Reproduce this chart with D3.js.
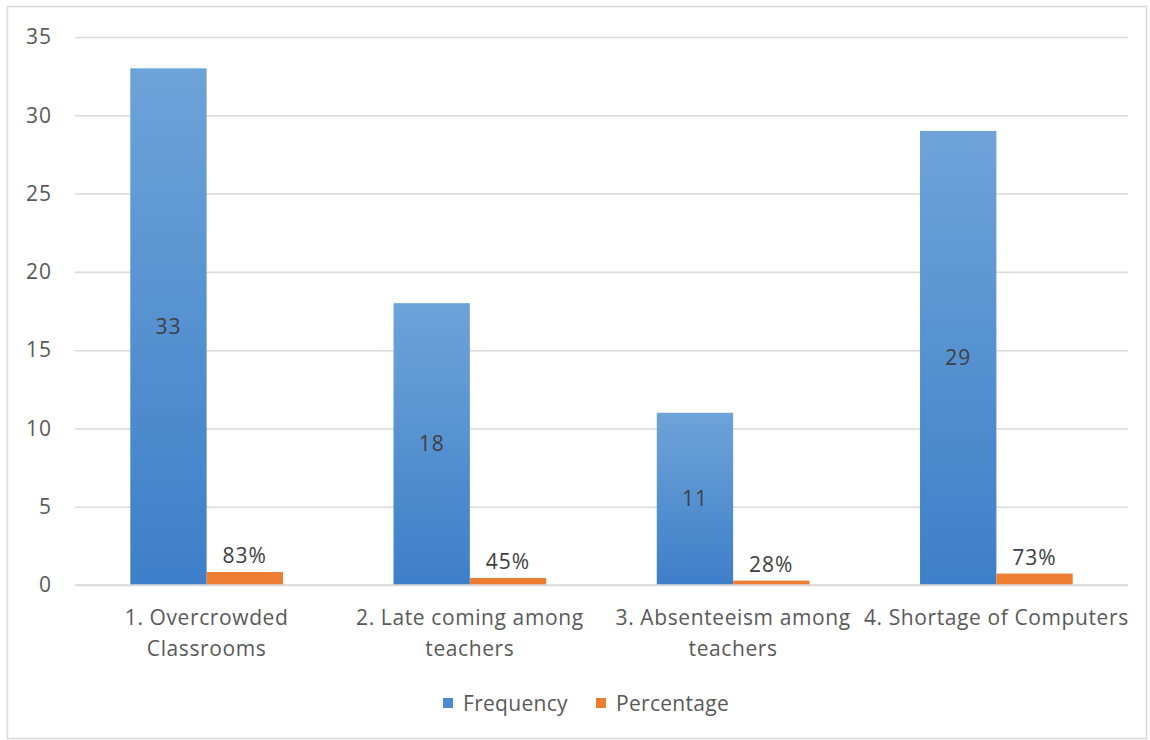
<!DOCTYPE html>
<html><head><meta charset="utf-8">
<script src="https://cdn.jsdelivr.net/npm/d3@7"></script>
<style>body{margin:0;background:#fff}svg{display:block}</style>
</head><body>
<svg id="c" width="1150" height="740"></svg>
<script>
const categories = [["1. Overcrowded","Classrooms"],["2. Late coming among","teachers"],["3. Absenteeism among","teachers"],["4. Shortage of Computers"]];
const frequency = [33, 18, 11, 29];
const percentage = [0.83, 0.45, 0.28, 0.73];
const percentLabels = ["83%","45%","28%","73%"];
const yTicks = [0,5,10,15,20,25,30,35];
const seriesNames = ["Frequency","Percentage"];

const svg = d3.select("#c");
const font = "'Open Sans', sans-serif";
const fs = "21px";
svg.append("rect").attr("x",7.5).attr("y",6.5).attr("width",1139).attr("height",732)
  .attr("fill","#fff").attr("stroke","#d9d9d9").attr("stroke-width",1.5);

const defs = svg.append("defs");
const g1 = defs.append("linearGradient").attr("id","gb").attr("x1",0).attr("y1",0).attr("x2",0).attr("y2",1);
g1.append("stop").attr("offset","0%").attr("stop-color","#6ea3d9");
g1.append("stop").attr("offset","100%").attr("stop-color","#3d7fc8");

const L = 75, R = 1128, T = 37, B = 585;
const x = d3.scaleBand().domain(d3.range(categories.length)).range([L,R]).paddingInner(0.42).paddingOuter(0.21);
const xs = d3.scaleBand().domain([0,1]).range([0,x.bandwidth()]);
const y = d3.scaleLinear().domain([0,35]).range([B,T]);

const ga = svg.append("g").attr("transform",`translate(${L},0)`)
  .call(d3.axisLeft(y).tickValues(yTicks).tickSize(-(R-L)).tickPadding(23));
ga.select(".domain").remove();
ga.selectAll(".tick line").attr("stroke","#d9d9d9").attr("stroke-width",1.5);
ga.selectAll(".tick text").attr("fill","#595959").attr("font-family",font).attr("font-size",fs).attr("letter-spacing","1px");

const grp = svg.append("g").selectAll("g").data(categories).join("g")
  .attr("transform",(d,i)=>`translate(${x(i)},0)`);
grp.append("rect").attr("x",xs(0)).attr("width",xs.bandwidth())
  .attr("y",(d,i)=>y(frequency[i])).attr("height",(d,i)=>y(0)-y(frequency[i])).attr("fill","url(#gb)");
grp.append("rect").attr("x",xs(1)).attr("width",xs.bandwidth())
  .attr("y",(d,i)=>y(percentage[i])).attr("height",(d,i)=>y(0)-y(percentage[i])).attr("fill","#ed7d31");
grp.append("text").attr("x",xs(0)+xs.bandwidth()/2).attr("y",(d,i)=>(y(frequency[i])+y(0))/2)
  .attr("dy","0.35em").attr("text-anchor","middle").attr("fill","#404040")
  .attr("font-family",font).attr("font-size",fs).attr("letter-spacing","1px").text((d,i)=>frequency[i]);
grp.append("text").attr("x",xs(1)+xs.bandwidth()/2).attr("y",(d,i)=>y(percentage[i])-9)
  .attr("text-anchor","middle").attr("fill","#404040")
  .attr("font-family",font).attr("font-size",fs).attr("letter-spacing","1px").text((d,i)=>percentLabels[i]);

// category labels
const cl = svg.append("g").selectAll("text").data(categories).join("text")
  .attr("x",(d,i)=>x(i)+x.bandwidth()/2).attr("y",625)
  .attr("text-anchor","middle").attr("fill","#595959").attr("font-family",font).attr("font-size",fs).attr("letter-spacing","0.6px");
cl.selectAll("tspan").data(d=>d).join("tspan")
  .attr("x",function(){return this.parentNode.getAttribute("x");})
  .attr("dy",(d,j)=>j===0?0:31).text(d=>d);

// axis baseline
svg.append("line").attr("x1",L).attr("x2",R).attr("y1",y(0)).attr("y2",y(0)).attr("stroke","#d9d9d9").attr("stroke-width",1.5);

// legend
const leg = svg.append("g");
const legColors = ["#4a8bd0","#ed7d31"];
const legX = [443, 596];
seriesNames.forEach((s,i)=>{
  leg.append("rect").attr("x",legX[i]).attr("y",698).attr("width",10).attr("height",10).attr("fill",legColors[i]);
  leg.append("text").attr("x",legX[i]+20).attr("y",711).attr("fill","#595959")
    .attr("font-family",font).attr("font-size",fs).attr("letter-spacing","0.3px").text(s);
});
</script>
</body></html>
